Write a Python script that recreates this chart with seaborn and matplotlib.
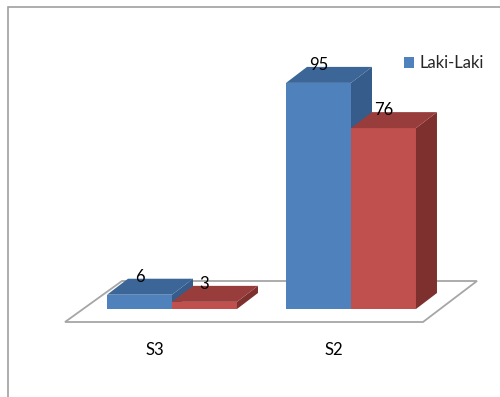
import matplotlib
matplotlib.use("Agg")
import matplotlib.pyplot as plt
import seaborn as sns
import pandas as pd
from matplotlib.patches import Polygon, Patch, Rectangle
from matplotlib.transforms import ScaledTranslation

# ---- data ----
categories = ["S3", "S2"]
series_names = ["Laki-Laki", "Perempuan"]
laki_laki = [6, 95]
perempuan = [3, 76]
legend_labels = ["Laki-Laki"]

# ---- styles ----
front_colors = ["#4F81BD", "#C0504D"]
top_colors = ["#3C6697", "#983D3B"]
side_colors = ["#355C8A", "#7D302E"]

df = pd.DataFrame({
    "Pendidikan": categories * 2,
    "Jenis": [series_names[0]] * len(categories) + [series_names[1]] * len(categories),
    "Jumlah": laki_laki + perempuan,
})

sns.set_style("white")
plt.rcParams["font.family"] = ["Lato", "DejaVu Sans"]

W, H = 500, 397
PX_PER_UNIT = 2.38      # vertical pixels per value unit
PX_PER_CAT = 179        # horizontal pixels per category step
CAT0_PX = 172           # pixel x of first category centre
BASE_PX = 309           # pixel y (from top) of bar base

fig = plt.figure(figsize=(W / 100, H / 100), dpi=100)
ax = fig.add_axes([0, (H - BASE_PX) / H, 1, BASE_PX / H])
ax.set_facecolor("none")

sns.barplot(data=df, x="Pendidikan", y="Jumlah", hue="Jenis",
            palette=front_colors, saturation=1, width=0.726,
            linewidth=0, errorbar=None, legend=False, ax=ax)

ax.set_xlim(-CAT0_PX / PX_PER_CAT, (W - CAT0_PX) / PX_PER_CAT)
ax.set_ylim(0, BASE_PX / PX_PER_UNIT)

inv = ax.transData.inverted()


def px(xp, yp):
    return inv.transform((xp, H - yp))


# depth offsets
o = inv.transform((0, 0))
d = inv.transform((21, 16))
ddx, ddy = d[0] - o[0], d[1] - o[1]

# floor (decoration)
floor_px = [(65, 322), (423, 322), (477, 281), (122, 281)]
floor = Polygon([px(*p) for p in floor_px], closed=True, facecolor="white",
                edgecolor="#A6A6A6", linewidth=1.3, zorder=1, clip_on=False)
ax.add_patch(floor)

bars = sorted([p for p in ax.patches if isinstance(p, Rectangle) and p is not floor],
              key=lambda r: r.get_x())
n_cat = len(categories)
for i, bar in enumerate(bars):
    # color index: alternates within each category group
    hue_idx = i % 2
    z = 2 + i
    bar.set_zorder(z)
    x0, w, h = bar.get_x(), bar.get_width(), bar.get_height()
    top = Polygon([(x0, h), (x0 + w, h), (x0 + w + ddx, h + ddy), (x0 + ddx, h + ddy)],
                  closed=True, facecolor=top_colors[hue_idx], edgecolor="none", zorder=z + 0.1)
    side = Polygon([(x0 + w, 0), (x0 + w, h), (x0 + w + ddx, h + ddy), (x0 + w + ddx, ddy)],
                   closed=True, facecolor=side_colors[hue_idx], edgecolor="none", zorder=z + 0.1)
    ax.add_patch(side)
    ax.add_patch(top)
    ax.text(x0 + w / 2, h + 13 / PX_PER_UNIT, f"{h:g}", ha="center", va="baseline",
            fontsize=12, color="black", zorder=20)

# axes styling
for s in ax.spines.values():
    s.set_visible(False)
ax.set_yticks([])
ax.set_xlabel("")
ax.set_ylabel("")
ax.tick_params(axis="x", length=0, pad=24, labelsize=12, colors="black")
off = ScaledTranslation(-17.5 / 100, 0, fig.dpi_scale_trans)
for lab in ax.get_xticklabels():
    lab.set_transform(lab.get_transform() + off)

# legend
ax.legend(handles=[Patch(facecolor=front_colors[0], edgecolor="none")], labels=legend_labels,
          loc="upper left", bbox_to_anchor=(404 / W, 1 - 55 / H), bbox_transform=fig.transFigure,
          frameon=False, borderpad=0, borderaxespad=0, handlelength=0.6, handleheight=0.65,
          handletextpad=0.35, fontsize=12)

# chart frame
fig.patches.append(Rectangle((7.5 / W, -0.1), 1.2, (H - 7.5) / H + 0.1, transform=fig.transFigure,
                             fill=False, edgecolor="#A0A0A0", linewidth=1.2))

fig.savefig("out.png", dpi=100)
